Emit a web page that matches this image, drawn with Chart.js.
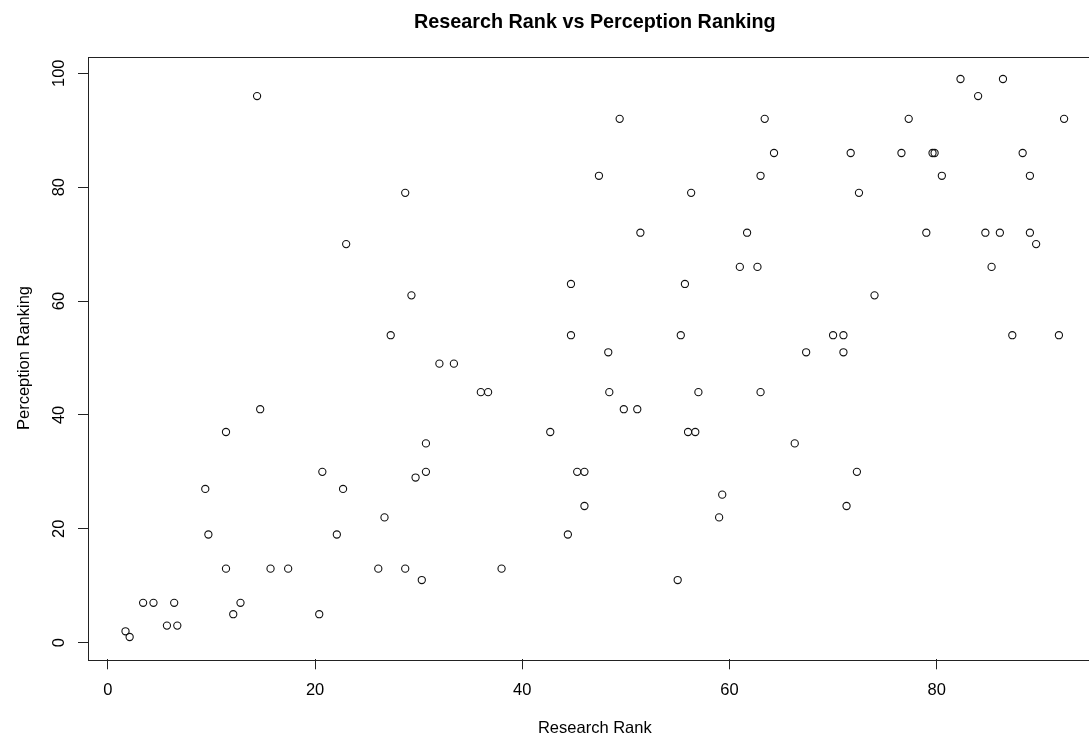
<html>
  <head>
    <title>Research Rank vs Perception Ranking</title>
    <script src="https://cdn.jsdelivr.net/npm/chart.js@4.4.1/dist/chart.umd.min.js"></script>
    <style>
      body { margin: 0; overflow: hidden; background: #fff; }
      #wrap { width: 1110px; height: 743px; }
    </style>
  </head>
  <body>
    <div id="wrap"><canvas id="scatter"></canvas></div>
  </body>
  <script>
    // values
    var researchRank = [1.7, 2.1, 3.4, 4.4, 5.7, 6.4, 6.7, 9.4, 9.7, 11.4, 11.4, 12.1, 12.8, 14.4, 14.7, 15.7, 17.4,
      20.4, 20.7, 22.1, 22.7, 23.0, 26.1, 26.7, 27.3, 28.7, 28.7, 29.3, 29.7, 30.3, 30.7, 30.7, 32.0, 33.4,
      36.0, 36.7, 38.0, 42.7, 44.4, 44.7, 44.7, 45.3, 46.0, 46.0, 47.4, 48.3, 48.4, 49.4, 49.8, 51.1, 51.4,
      55.0, 55.3, 55.7, 56.0, 56.7, 56.3, 57.0, 59.0, 59.3, 61.0, 61.7, 62.7, 63.0, 63.0, 63.4, 64.3, 66.3,
      67.4, 70.0, 71.0, 71.0, 71.3, 71.7, 72.3, 72.5, 74.0, 76.6, 77.3, 79.0, 79.6, 79.8, 80.5, 82.3, 84.0,
      84.7, 85.3, 86.1, 86.4, 87.3, 88.3, 89.0, 89.0, 89.6, 91.8, 92.3];
    var perceptionRank = [2, 1, 7, 7, 3, 7, 3, 27, 19, 37, 13, 5, 7, 96, 41, 13, 13,
      5, 30, 19, 27, 70, 13, 22, 54, 79, 13, 61, 29, 11, 30, 35, 49, 49,
      44, 44, 13, 37, 19, 63, 54, 30, 30, 24, 82, 51, 44, 92, 41, 41, 72,
      11, 54, 63, 37, 37, 79, 44, 22, 26, 66, 72, 66, 82, 44, 92, 86, 35,
      51, 54, 54, 51, 24, 86, 30, 79, 61, 86, 92, 72, 86, 86, 82, 99, 96,
      72, 66, 72, 99, 54, 86, 82, 72, 70, 54, 92];
    var xTicks = [0, 20, 40, 60, 80];
    var yTicks = [0, 20, 40, 60, 80, 100];

    var points = [];
    for (var i = 0; i < researchRank.length; i++) {
      points.push({x: researchRank[i], y: perceptionRank[i]});
    }

    Chart.defaults.font.family = "'Liberation Sans', Arial, Helvetica, sans-serif";
    Chart.defaults.color = '#000';

    // R style box around the plot region
    var boxPlugin = {
      id: 'box',
      afterDatasetsDraw: function (chart) {
        var a = chart.chartArea, ctx = chart.ctx;
        ctx.save();
        ctx.strokeStyle = '#222';
        ctx.lineWidth = 1;
        ctx.strokeRect(Math.round(a.left) + 0.5, Math.round(a.top) + 0.5,
          Math.round(a.right - a.left), Math.round(a.bottom - a.top));
        ctx.restore();
      }
    };

    new Chart(document.getElementById('scatter'), {
      type: 'scatter',
      data: {
        datasets: [{
          label: 'Perception Ranking',
          data: points,
          pointStyle: 'circle',
          pointRadius: 3.6,
          pointBorderWidth: 1.1,
          borderColor: '#111',
          backgroundColor: 'rgba(0,0,0,0)'
        }]
      },
      options: {
        responsive: true,
        maintainAspectRatio: false,
        animation: false,
        layout: { padding: { left: 0, right: 8.4, top: 0, bottom: 0 } },
        plugins: {
          legend: { display: false },
          tooltip: { enabled: false },
          title: {
            display: true,
            fullSize: false,
            text: 'Research Rank vs Perception Ranking',
            color: '#000',
            font: { size: 19.8, weight: 'bold' },
            padding: { top: 11, bottom: 21.9 }
          }
        },
        scales: {
          x: {
            type: 'linear',
            min: -1.92,
            max: 95.92,
            afterBuildTicks: function (s) { s.ticks = xTicks.map(function (v) { return {value: v}; }); },
            afterFit: function (s) { s.height = 83.7; },
            border: { display: false },
            grid: { drawOnChartArea: false, drawTicks: true, tickLength: 10, color: '#222', lineWidth: 1 },
            ticks: { padding: 11, font: { size: 16.5 }, autoSkip: false, maxRotation: 0 },
            title: { display: true, text: 'Research Rank', font: { size: 16.5 }, padding: { top: 0, bottom: 5 } }
          },
          y: {
            type: 'linear',
            min: -2.92,
            max: 102.92,
            afterBuildTicks: function (s) { s.ticks = yTicks.map(function (v) { return {value: v}; }); },
            afterFit: function (s) { s.width = 88; },
            border: { display: false },
            grid: { drawOnChartArea: false, drawTicks: true, tickLength: 10, color: '#222', lineWidth: 1 },
            ticks: { padding: 5, font: { size: 16.5 }, autoSkip: false, minRotation: 90, maxRotation: 90, crossAlign: 'center' },
            title: { display: true, text: 'Perception Ranking', font: { size: 16.5 }, padding: { top: 14.5, bottom: 0 } }
          }
        }
      },
      plugins: [boxPlugin]
    });
  </script>
</html>
